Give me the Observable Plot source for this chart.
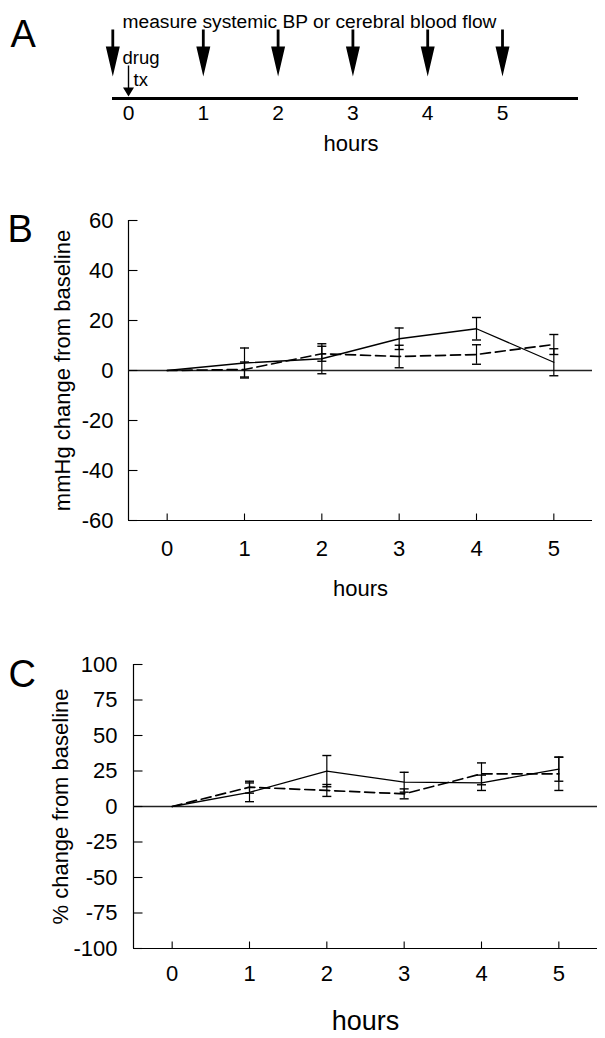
<!DOCTYPE html>
<html>
<head>
<meta charset="utf-8">
<script src="https://cdn.jsdelivr.net/npm/d3@7"></script>
<script src="https://cdn.jsdelivr.net/npm/@observablehq/plot@0.6"></script>
<style>
  html, body { margin: 0; padding: 0; background: #fff; }
  #root { position: relative; width: 605px; height: 1038px; overflow: hidden; background: #fff; }
  #root > div { position: absolute; left: 0; }
</style>
</head>
<body>
<div id="root">
  <div id="panelA" style="top:0px"></div>
  <div id="panelB" style="top:160px"></div>
  <div id="panelC" style="top:610px"></div>
</div>
<script>
// ---------- data ----------
const hours = [0, 1, 2, 3, 4, 5];
const measureTimes = [-0.21, 1, 2, 3, 4, 5];   // systemic BP / cerebral blood flow measurements
const drugTimes = [0];                          // drug tx

// Panel B: mmHg change from baseline
const bpTicks = [-60, -40, -20, 0, 20, 40, 60];
const bpSolid = [0, 3, 4.7, 12.7, 16.7, 3.3];
const bpSolidErr = [0, 6, 6, 4.3, 4.5, 5.4];
const bpDashed = [0, 0.4, 6.7, 5.6, 6.4, 10.4];
const bpDashedErr = [0, 3, 3, 4.5, 3.9, 4];

// Panel C: % change from baseline
const pctTicks = [-100, -75, -50, -25, 0, 25, 50, 75, 100];
const pctSolid = [0, 10, 24.9, 17.1, 16.7, 26.3];
const pctSolidErr = [0, 6.6, 11, 7, 5.4, 8.5];
const pctDashed = [0, 13.6, 11.3, 8.9, 23, 23];
const pctDashedErr = [0, 4.2, 4.2, 3.5, 7.7, 11.7];

// ---------- helpers ----------
const FONT = '"Liberation Sans", Arial, Helvetica, sans-serif';
const lineShape = { draw(c, l) { c.moveTo(0, 0); c.lineTo(0, -l); } };
function arrowShape(headLen, halfW, shaftHalf) {
  return {
    draw(c, l) {
      const s = l - headLen;
      c.moveTo(-shaftHalf, 0);
      c.lineTo(shaftHalf, 0);
      c.lineTo(shaftHalf, -s - 0.5);
      c.lineTo(-shaftHalf, -s - 0.5);
      c.closePath();
      c.moveTo(-halfW, -s);
      c.lineTo(halfW, -s);
      c.lineTo(0, -l);
      c.closePath();
    }
  };
}
const table = (means, errs) => hours.map((h, i) => ({h, v: means[i], e: errs[i]}));

// ---------- Panel A ----------
const plotA = Plot.plot({
  width: 605, height: 160,
  marginTop: 29, marginBottom: 62, marginLeft: 112, marginRight: 27,
  x: {domain: [-0.214, 6.016], label: null},
  y: {domain: [0, 1], axis: null},
  style: {fontFamily: FONT, color: "black", background: "white", overflow: "visible"},
  marks: [
    Plot.ruleY([0], {strokeWidth: 3}),
    Plot.axisX({ticks: hours, tickSize: 0, tickPadding: 7, fontSize: 21, tickFormat: d => String(d), label: null}),
    Plot.vector(measureTimes, {x: d => d, frameAnchor: "top", rotate: 180, length: 47, anchor: "start",
      shape: arrowShape(30, 7, 1.4), fill: "black", stroke: "none"}),
    Plot.vector(drugTimes, {x: d => d, frameAnchor: "top", dy: 36, rotate: 180, length: 31, anchor: "start",
      shape: arrowShape(9, 5.5, 0.7), fill: "black", stroke: "none"}),
    Plot.text(["A"], {frameAnchor: "top-left", dx: -102, dy: 17, textAnchor: "start", lineAnchor: "bottom", fontSize: 38}),
    Plot.text(["measure systemic BP or cerebral blood flow"], {frameAnchor: "top-left", dx: 10, dy: -2, textAnchor: "start", lineAnchor: "bottom", fontSize: 19.2}),
    Plot.text(["drug"], {frameAnchor: "top-left", dx: 10, dy: 34, textAnchor: "start", lineAnchor: "bottom", fontSize: 18.5}),
    Plot.text(["tx"], {frameAnchor: "top-left", dx: 21, dy: 56, textAnchor: "start", lineAnchor: "bottom", fontSize: 18.5}),
    Plot.text(["hours"], {frameAnchor: "bottom", dx: 5.5, dy: 52, lineAnchor: "bottom", fontSize: 22})
  ]
});
document.getElementById("panelA").appendChild(plotA);

// ---------- generic chart panel ----------
function chartPanel({height, marginTop, marginBottom, marginLeft, marginRight, yDomain, yTicks,
                     solid, dashed, label, yTitle, titleDx, yPad, xPad, hoursDy, hoursSize, labelDx, labelDy}) {
  const withErr = d => d.e > 0;
  const errMarks = data => [
    Plot.ruleX(data.filter(withErr), {x: "h", y1: d => d.v - d.e, y2: d => d.v + d.e, strokeWidth: 1.2}),
    Plot.vector(data.filter(withErr), {x: "h", y: d => d.v + d.e, rotate: 90, length: 9, anchor: "middle", shape: lineShape, strokeWidth: 1.4, strokeLinecap: "butt"}),
    Plot.vector(data.filter(withErr), {x: "h", y: d => d.v - d.e, rotate: 90, length: 9, anchor: "middle", shape: lineShape, strokeWidth: 1.4, strokeLinecap: "butt"})
  ];
  return Plot.plot({
    width: 605, height, marginTop, marginBottom, marginLeft, marginRight,
    x: {domain: [-0.5, 5.5], label: null},
    y: {domain: yDomain, label: null},
    style: {fontFamily: FONT, color: "black", background: "white", overflow: "visible"},
    marks: [
      Plot.ruleX([-0.5], {strokeWidth: 1.2}),
      Plot.ruleY([yDomain[0]], {strokeWidth: 1.2}),
      Plot.ruleY([0], {strokeWidth: 1.3, stroke: "#222"}),
      Plot.vector(yTicks, {y: d => d, frameAnchor: "left", rotate: 90, length: 9, anchor: "start", shape: lineShape, strokeWidth: 1.1, strokeLinecap: "butt"}),
      Plot.vector(hours, {x: d => d, frameAnchor: "bottom", rotate: 0, length: 7, anchor: "start", shape: lineShape, strokeWidth: 1.1, strokeLinecap: "butt"}),
      Plot.axisY({ticks: yTicks, tickSize: 0, tickPadding: yPad, fontSize: 22, tickFormat: d => String(d), label: null}),
      Plot.axisX({ticks: hours, tickSize: 0, tickPadding: xPad, fontSize: 22, tickFormat: d => String(d), label: null}),
      ...errMarks(solid),
      ...errMarks(dashed),
      Plot.line(solid, {x: "h", y: "v", strokeWidth: 1.3}),
      Plot.line(dashed, {x: "h", y: "v", strokeWidth: 1.7, strokeDasharray: "10,5"}),
      Plot.text([yTitle], {frameAnchor: "left", rotate: -90, dx: titleDx, fontSize: 22, textAnchor: "middle", lineAnchor: "middle"}),
      Plot.text(["hours"], {frameAnchor: "bottom", dy: hoursDy, lineAnchor: "bottom", fontSize: hoursSize}),
      Plot.text([label], {frameAnchor: "top-left", dx: labelDx, dy: labelDy, textAnchor: "start", lineAnchor: "bottom", fontSize: 38})
    ]
  });
}

const plotB = chartPanel({
  height: 450, marginTop: 60, marginBottom: 90, marginLeft: 128, marginRight: 13,
  yDomain: [-60, 60], yTicks: bpTicks,
  solid: table(bpSolid, bpSolidErr), dashed: table(bpDashed, bpDashedErr),
  label: "B", yTitle: "mmHg change from baseline", titleDx: -66,
  yPad: 15, xPad: 20, hoursDy: 75, hoursSize: 22, labelDx: -121, labelDy: 21
});
document.getElementById("panelB").appendChild(plotB);

const plotC = chartPanel({
  height: 428, marginTop: 54, marginBottom: 90, marginLeft: 133, marginRight: 8,
  yDomain: [-100, 100], yTicks: pctTicks,
  solid: table(pctSolid, pctSolidErr), dashed: table(pctDashed, pctDashedErr),
  label: "C", yTitle: "% change from baseline", titleDx: -73,
  yPad: 16, xPad: 17, hoursDy: 81, hoursSize: 27, labelDx: -125, labelDy: 22
});
document.getElementById("panelC").appendChild(plotC);
</script>
</body>
</html>
